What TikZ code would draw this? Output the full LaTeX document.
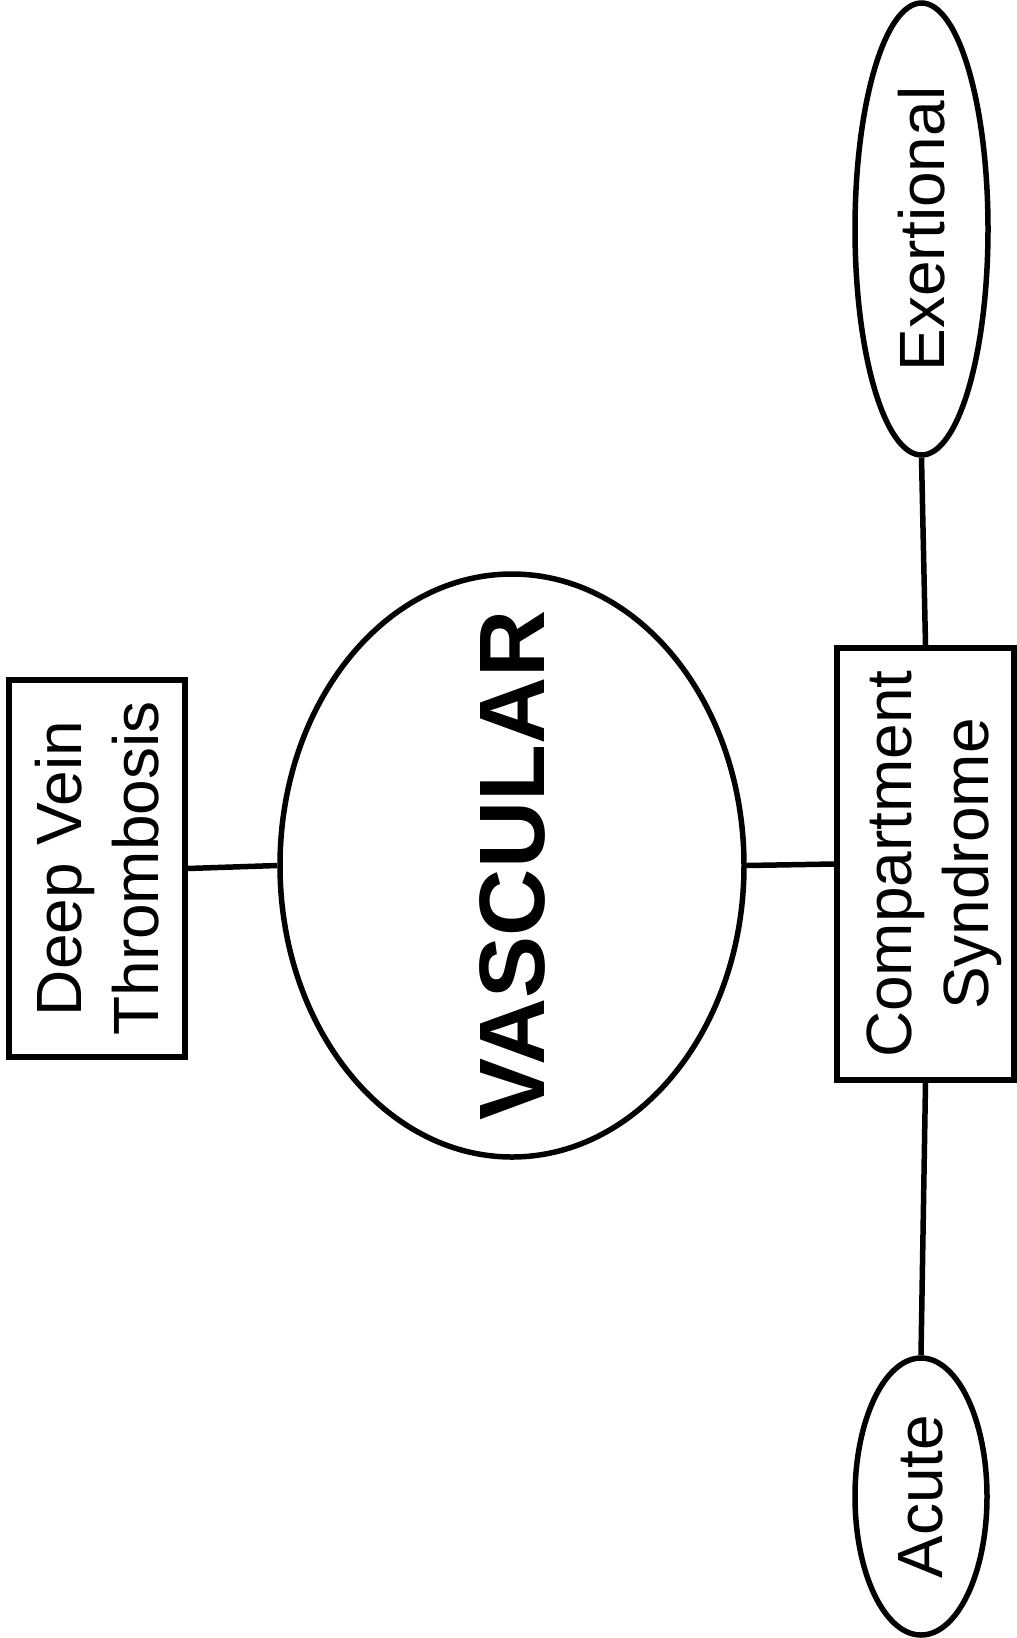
\documentclass[tikz,border=0pt]{standalone}
\usepackage{fontspec}
\setmainfont{Liberation Sans}
\usetikzlibrary{shapes.geometric}
\tikzset{
  shapebox/.style={draw, line width=5.5pt, inner sep=0pt, fill=white},
  ell/.style={shapebox, ellipse},
  rect/.style={shapebox, rectangle},
  conn/.style={line width=5.5pt},
  txt/.style={inner sep=0pt, font=\fontsize{64}{77}\selectfont},
  bigtxt/.style={inner sep=0pt, font=\fontsize{93}{100}\selectfont\bfseries}
}
\begin{document}
\begin{tikzpicture}[x=1pt, y=-1pt]
\useasboundingbox (0,0) rectangle (1017,1638);
\node[rect, minimum width=176pt, minimum height=377pt] (dvt) at (97,868.5) {};
\node[ell, minimum width=464pt, minimum height=583pt] (vas) at (512,865.5) {};
\node[rect, minimum width=177pt, minimum height=432pt] (cs) at (925.5,864) {};
\node[ell, minimum width=133pt, minimum height=452pt] (ex) at (921.5,229) {};
\node[ell, minimum width=132pt, minimum height=277pt] (ac) at (921,1496.5) {};
\draw[conn] (dvt.east) -- (vas.west);
\draw[conn] (vas.east) -- (cs.west);
\draw[conn] (cs.north) -- (ex.south);
\draw[conn] (cs.south) -- (ac.north);
\node[txt] (tdvt) at ([xshift=7.5pt]dvt.center) {\rotatebox{90}{\begin{tabular}{@{}c@{}}Deep Vein\\Thrombosis\end{tabular}}};
\node[txt] (tcs) at ([xshift=9.5pt]cs.center) {\rotatebox{90}{\begin{tabular}{@{}c@{}}Compartment\\Syndrome\end{tabular}}};
\node[bigtxt] (tvas) at (vas.center) {\rotatebox{90}{VASCULAR}};
\node[txt] (tex) at (ex.center) {\rotatebox{90}{Exertional}};
\node[txt] (tac) at (ac.center) {\rotatebox{90}{Acute}};
\end{tikzpicture}
\end{document}
